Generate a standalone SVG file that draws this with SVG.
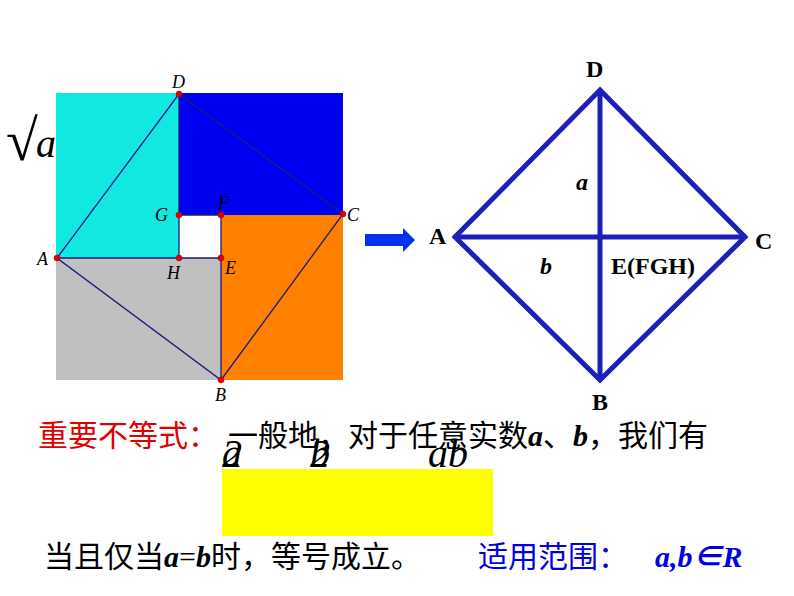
<svg xmlns="http://www.w3.org/2000/svg" width="794" height="596" viewBox="0 0 794 596">
<style>
.pt{fill:#e00000;stroke:#900;stroke-width:0.5}
.lb{font-family:"Liberation Serif",serif;font-style:italic;font-size:18px;fill:#000}
.bl{font-family:"Liberation Serif",serif;font-weight:bold;font-size:24px;fill:#000}
.cn{font-family:"Liberation Serif","Noto Sans CJK SC",serif;font-size:30px}
.it{font-family:"Liberation Serif",serif;font-style:italic;font-size:40px;fill:#000}
</style>
<rect width="794" height="596" fill="#fff"/>
<g id="sqrt"><text x="6" y="160" font-family="Liberation Serif,serif" font-size="58">√</text><text class="it" x="36" y="157" font-size="50">a</text></g>
<g id="square">
<rect x="56" y="93" width="123" height="165" fill="#10e8e0"/>
<rect x="179" y="93" width="164" height="122" fill="#0000f0"/>
<rect x="221" y="215" width="122" height="165" fill="#ff8000"/>
<rect x="56" y="258" width="165" height="122" fill="#c0c0c0"/>
<rect x="179" y="215" width="42" height="43" fill="#fff"/>
<g stroke="#1a1a80" stroke-width="1.3" fill="none">
<polygon points="179,94 343,214 221,380 57,258"/>
<polyline points="179,94 179,215 221,215"/>
<polyline points="57,258 221,258 221,380"/>
<line x1="179" y1="215" x2="179" y2="258"/>
<line x1="221" y1="215" x2="221" y2="258"/>
</g>
<circle class="pt" cx="179" cy="94" r="3"/><circle class="pt" cx="343" cy="214" r="3"/>
<circle class="pt" cx="221" cy="380" r="3"/><circle class="pt" cx="57" cy="258" r="3"/>
<circle class="pt" cx="179" cy="215" r="3"/><circle class="pt" cx="221" cy="215" r="3"/>
<circle class="pt" cx="221" cy="258" r="3"/><circle class="pt" cx="179" cy="258" r="3"/>
<text class="lb" x="172" y="88">D</text><text class="lb" x="347" y="221">C</text>
<text class="lb" x="215" y="401">B</text><text class="lb" x="37" y="265">A</text>
<text class="lb" x="155" y="221">G</text><text class="lb" x="218" y="209">F</text>
<text class="lb" x="225" y="274">E</text><text class="lb" x="167" y="279">H</text>
</g>
<g id="arrow"><polygon points="365,234 403,234 403,228 415,240 403,252 403,246 365,246" fill="#0030f0"/></g>
<g id="diamond">
<g stroke="#1e1eb8" stroke-width="5" fill="none">
<polygon points="600,90 745,237 600,380 455,237"/>
<line x1="600" y1="90" x2="600" y2="380"/>
<line x1="455" y1="237" x2="745" y2="237"/>
</g>
<text class="bl" x="586" y="77">D</text><text class="bl" x="755" y="249">C</text>
<text class="bl" x="592" y="410">B</text><text class="bl" x="429" y="244">A</text>
<text class="bl" x="576" y="190" font-style="italic" font-size="20">a</text>
<text class="bl" x="540" y="274" font-style="italic" font-size="20">b</text>
<text class="bl" x="611" y="274" fill="#e00000" font-size="20">E(FGH)</text>
</g>
<g id="text">
<text class="cn" x="38" y="446" fill="#e00000">重要不等式：</text>
<text class="cn" x="228" y="446" fill="#000">一般地，对于任意实数<tspan font-style="italic" font-weight="bold">a</tspan>、<tspan font-style="italic" font-weight="bold">b</tspan>，我们有</text>
<text class="it" x="222" y="467">a</text><text class="it" x="222" y="467">2</text>
<text class="it" x="310" y="467">b</text><text class="it" x="310" y="467">2</text>
<text class="it" x="428" y="467">ab</text>
<rect x="222" y="469" width="271" height="67" fill="#ffff00"/>
<text class="cn" x="44" y="567" fill="#000">当且仅当<tspan font-style="italic" font-weight="bold">a</tspan>=<tspan font-style="italic" font-weight="bold">b</tspan>时，等号成立。</text>
<text class="cn" x="478" y="567" fill="#0000e0">适用范围：</text>
<text class="cn" x="655" y="567" fill="#0000e0" font-weight="bold" font-style="italic">a,b∈R</text>
</g>
</svg>
